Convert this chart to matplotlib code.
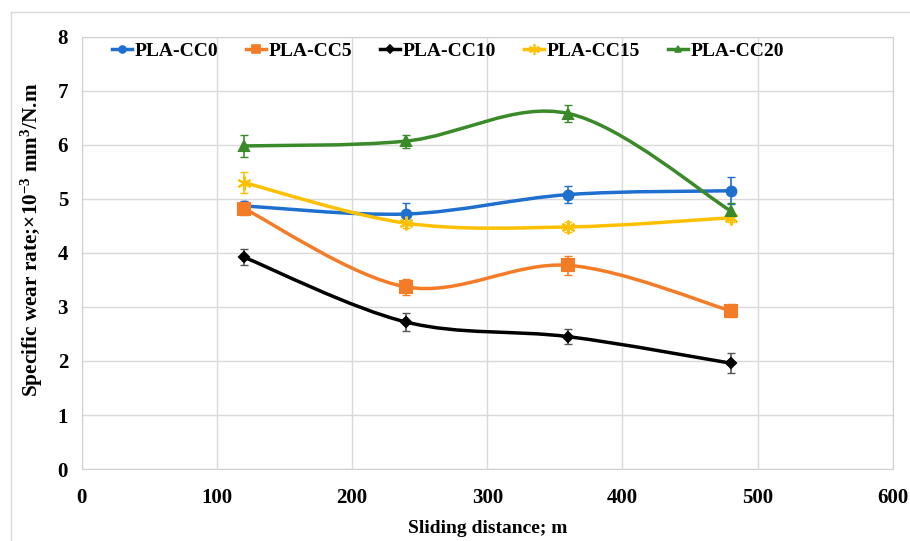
import matplotlib.pyplot as plt
import numpy as np
from matplotlib.path import Path
from matplotlib.patches import PathPatch
from matplotlib.lines import Line2D

plt.rcParams['font.family'] = ['Liberation Serif', 'DejaVu Serif']
plt.rcParams['font.weight'] = 'bold'
plt.rcParams['mathtext.fontset'] = 'custom'
plt.rcParams['mathtext.rm'] = 'Liberation Serif:bold'
plt.rcParams['mathtext.bf'] = 'Liberation Serif:bold'
plt.rcParams['mathtext.it'] = 'Liberation Serif:bold'

distance = [120, 240, 360, 480]
names = ['PLA-CC0', 'PLA-CC5', 'PLA-CC10', 'PLA-CC15', 'PLA-CC20']
cc0 = [4.87, 4.72, 5.08, 5.15]
cc5 = [4.82, 3.37, 3.77, 2.93]
cc10 = [3.92, 2.72, 2.45, 1.96]
cc15 = [5.30, 4.55, 4.48, 4.65]
cc20 = [5.98, 6.07, 6.58, 4.78]
err0 = [0.10, 0.20, 0.15, 0.25]
err5 = [0.12, 0.15, 0.18, 0.12]
err10 = [0.15, 0.17, 0.14, 0.18]
err15 = [0.20, 0.08, 0.10, 0.08]
err20 = [0.20, 0.12, 0.15, 0.15]

colors = ['#1f6fcf', '#f57c27', '#000000', '#ffc000', '#3a8a2a']
markers = ['o', 's', 'D', (6, 2, 0), '^']
msizes = [7, 8, 5, 10, 7]
leg_sizes = [5, 6, 4, 8, 5]


def smooth_path(x, y):
	# Excel-like smoothed line: cubic Bezier segments (Catmull-Rom)
	x = np.asarray(x, float)
	y = np.asarray(y, float)
	px = np.concatenate([[x[0]], x, [x[-1]]])
	py = np.concatenate([[y[0]], y, [y[-1]]])
	verts = [(x[0], y[0])]
	codes = [Path.MOVETO]
	for i in range(1, len(px) - 2):
		c1 = (px[i] + (px[i + 1] - px[i - 1]) / 6, py[i] + (py[i + 1] - py[i - 1]) / 6)
		c2 = (px[i + 1] - (px[i + 2] - px[i]) / 6, py[i + 1] - (py[i + 2] - py[i]) / 6)
		verts += [c1, c2, (px[i + 1], py[i + 1])]
		codes += [Path.CURVE4] * 3
	return Path(verts, codes)


fig = plt.figure(figsize=(9.1, 5.41), dpi=100)
ax = fig.add_axes([0.090, 0.133, 0.891, 0.799])

series = [cc0, cc5, cc10, cc15, cc20]
errs = [err0, err5, err10, err15, err20]
handles = []
for vals, e, c, m, ms, lms, name in zip(series, errs, colors, markers, msizes, leg_sizes, names):
	ax.add_patch(PathPatch(smooth_path(distance, vals), facecolor='none', edgecolor=c, lw=2.5, zorder=3))
	ecol = '#555555' if c == '#000000' else c
	ax.errorbar(distance, vals, yerr=e, fmt='none', ecolor=ecol, elinewidth=1.2, capsize=3, zorder=4)
	ax.plot(distance, vals, linestyle='none', marker=m, color=c, markersize=ms, mew=1.5, zorder=5)
	handles.append(Line2D([], [], color=c, lw=2.5, marker=m, markersize=lms, mew=1.2))

ax.set_xlim(0, 600)
ax.set_ylim(0, 8)
ax.set_xticks(range(0, 601, 100))
ax.set_yticks(range(0, 9))
ax.grid(True, color='#d9d9d9', lw=1)
ax.set_axisbelow(True)
for s in ax.spines.values():
	s.set_color('#d0d0d0')
ax.tick_params(length=0, labelsize=15)
ax.tick_params(axis='x', pad=14)
ax.tick_params(axis='y', pad=10)
for lab in ax.get_xticklabels() + ax.get_yticklabels():
	lab.set_fontweight('bold')

ax.set_xlabel('Sliding distance; m', fontsize=14, fontweight='bold', labelpad=8)
ax.set_ylabel(r'Specific wear rate;×10$^{-3}$ mm$^{3}$/N.m', fontsize=15.3, fontweight='bold')
ax.yaxis.set_label_coords(-0.046, 0.53)

ax.legend(handles, names, loc='upper left', bbox_to_anchor=(0.03, 1.0), borderaxespad=0, ncol=5,
	frameon=False, handlelength=1.0, columnspacing=1.45, handletextpad=0.15, borderpad=0.3,
	prop={'size': 14, 'weight': 'bold'})

# outer chart frame (top and left edges visible)
fig.add_artist(Line2D([0.012, 1.0], [0.978, 0.978], transform=fig.transFigure, color='#d9d9d9', lw=1))
fig.add_artist(Line2D([0.012, 0.012], [0.0, 0.978], transform=fig.transFigure, color='#d9d9d9', lw=1))

fig.savefig('out.png', dpi=100)
